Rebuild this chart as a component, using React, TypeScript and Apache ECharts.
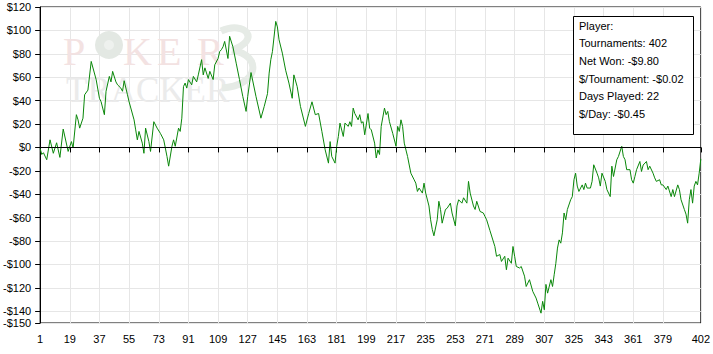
import React, { useEffect, useRef } from "react";
import * as echarts from "echarts";

const tournaments = [
  1, 2, 3, 5, 7, 9, 11, 13, 15, 18, 20, 21, 23, 24, 25, 27, 28, 30, 32, 35, 37, 38, 40, 41, 43, 44, 45, 47, 48, 50,
  51, 52, 54, 55, 58, 59, 60, 61, 63, 64, 65, 67, 68, 70, 72, 74, 76, 78, 79, 81, 82, 83, 85, 86, 87, 88, 89, 90, 91, 93,
  94, 96, 97, 99, 100, 101, 103, 104, 106, 107, 109, 110, 111, 112, 113, 115, 116, 118, 120, 122, 124, 126, 127, 129, 132, 135, 137, 139, 140, 141,
  142, 144, 145, 146, 148, 150, 152, 154, 155, 157, 159, 162, 164, 166, 168, 170, 172, 174, 176, 177, 178, 180, 181, 182, 183, 185, 186, 188, 189, 190,
  191, 192, 194, 195, 196, 197, 198, 200, 201, 202, 204, 205, 206, 207, 208, 210, 211, 212, 213, 215, 217, 218, 219, 220, 221, 222, 224, 226, 228, 229,
  230, 231, 233, 234, 235, 237, 238, 239, 240, 242, 243, 244, 245, 247, 248, 250, 251, 253, 254, 255, 257, 258, 260, 261, 262, 264, 265, 266, 268, 270,
  271, 272, 274, 277, 278, 280, 281, 283, 284, 285, 287, 288, 289, 290, 292, 293, 295, 296, 298, 300, 302, 303, 305, 306, 307, 308, 309, 311, 312, 313,
  314, 315, 316, 317, 318, 319, 320, 321, 323, 324, 325, 326, 327, 328, 330, 331, 332, 333, 335, 336, 337, 339, 340, 341, 342, 344, 345, 347, 348, 349,
  351, 352, 354, 355, 356, 357, 359, 360, 361, 362, 363, 365, 366, 367, 369, 370, 371, 373, 374, 375, 377, 378, 379, 381, 382, 384, 385, 386, 388, 389,
  390, 392, 393, 394, 395, 396, 397, 398, 399, 400, 401, 402,
];

const netWon = [
  -1, -6, -4.5, -10.5, 6.5, -5, 4, -8.5, 15.7, -3.4, 5, -0.5, 28, 23.6, 16.5, 25, 45, 49, 73.5, 58, 42, 39, 28, 48, 60.7, 56, 65, 56, 53.5, 50.7,
  48, 57, 45, 39, 23.6, 15, 6.5, 13.7, 3.7, -5, 16.5, 5, -3.4, 22, 16.5, 12, 6.5, -7.7, -16, 1, 6.5, 1, 16.5, 13.7, 25, 52, 55, 50.7, 58, 53.5,
  60.7, 56, 62, 75, 62, 68, 59, 65, 58, 70.6, 76, 82, 83.5, 86, 90.6, 76, 95, 86, 72, 58, 43.6, 30.8, 43.6, 64, 43.6, 25, 35, 46, 63.5, 75,
  82, 107.7, 103, 92, 80.6, 66, 55, 42, 62, 52, 35, 18, 29, 39, 28, 29, 13.7, -2, -13.4, 5, -7.7, -13.4, 1, 9.4, 20.8, 9.4, 20.8, 18, 22, 18,
  33.6, 29, 23.6, 28, 20.8, 22, 10.8, 29, 16.5, 15, 3.7, -9, -2, -6, 18, 33.6, 28, 30.8, 22, 12, 1, 18, 13.7, 23.6, 18, 3.7, -7.7, -22, -27.6, -30.5,
  -37.6, -34.7, -39, -30.5, -39, -50, -61.8, -70, -75.5, -61.8, -46, -53, -64.7, -53, -52, -47.6, -56, -67, -50, -44.7, -47.6, -43, -47.6, -29, -39, -50, -53, -46, -54.7, -56,
  -59, -61.8, -71, -84.6, -93, -91.5, -97.4, -93, -104.5, -94.6, -99, -84.6, -93, -101.7, -103, -101.7, -110, -118.8, -113, -123, -128.7, -133, -141.6, -131.5, -138.7, -117, -124.5, -113, -118.8, -108.8,
  -99, -86, -79, -81.8, -73, -56, -61.8, -53, -44.7, -42, -27.6, -22, -33, -37.6, -32, -36, -30.5, -34.7, -34.7, -29, -14.8, -22, -26, -33, -22, -29, -36, -42, -16, -24.8,
  -10.5, -7.7, 1, -7.7, -10.5, -19, -19, -27.6, -30.5, -24.8, -19, -12, -20.5, -15, -12, -19, -16, -22, -26, -29, -27.6, -32, -32, -36, -33, -42, -36, -42, -32, -36,
  -44.7, -53, -57, -64.7, -44.7, -36, -47.6, -33, -29, -32, -22, -9.8,
];

const xTicks = [1, 19, 37, 55, 73, 91, 109, 127, 145, 163, 181, 199, 217, 235, 253, 271, 289, 307, 325, 343, 361, 379, 402];
const yTicks = [-150, -140, -120, -100, -80, -60, -40, -20, 0, 20, 40, 60, 80, 100, 120];

const statsLines = [
  "Player:",
  "Tournaments: 402",
  "Net Won: -$9.80",
  "$/Tournament: -$0.02",
  "Days Played: 22",
  "$/Day: -$0.45",
];

const FONT = "'Liberation Sans', Arial, sans-serif";
const SERIF = "'Liberation Serif', serif";

export default function App() {
  const ref = useRef<HTMLDivElement>(null);

  useEffect(() => {
    if (!ref.current) return;
    const chart = echarts.init(ref.current, null, { renderer: "svg" });
    const data = tournaments.map((t, i) => [t, netWon[i]]);

    const statsTexts = statsLines.map((s, i) => ({
      type: "text",
      left: 579,
      top: 20 + i * 17.7,
      z: 10,
      style: { text: s, fill: "#000", font: `11px ${FONT}` },
    }));

    const pink = "#f3e2e2";
    const wm = (text: string, left: number) => ({
      type: "text",
      left,
      top: 31.5,
      z: 1,
      silent: true,
      style: { text, fill: pink, font: `40px ${SERIF}`, lineHeight: 30 },
    });

    chart.setOption({
      animation: false,
      backgroundColor: "#fff",
      grid: {
        left: 36,
        right: 12,
        top: 7,
        bottom: 31,
        show: true,
        borderColor: "#000",
        borderWidth: 1,
        backgroundColor: "transparent",
      },
      xAxis: {
        type: "value",
        min: 1,
        max: 402,
        axisLine: { show: true, lineStyle: { color: "#000", width: 1 } },
        axisTick: { show: true, customValues: xTicks, length: 5, lineStyle: { color: "#000" } },
        axisLabel: {
          customValues: xTicks,
          color: "#000",
          fontFamily: FONT,
          fontSize: 11,
          margin: 10,
        },
        splitLine: { show: true, lineStyle: { color: "#e6e6e6", width: 1 } },
      },
      yAxis: {
        type: "value",
        min: -150,
        max: 120,
        axisLine: { show: true, lineStyle: { color: "#000", width: 1 } },
        axisTick: { show: true, customValues: yTicks, length: 5, lineStyle: { color: "#000" } },
        axisLabel: {
          customValues: yTicks,
          color: "#000",
          fontFamily: FONT,
          fontSize: 11,
          margin: 9,
          formatter: (v: number) => (v < 0 ? "-$" + Math.abs(v) : "$" + v),
        },
        splitLine: { show: true, lineStyle: { color: "#e6e6e6", width: 1 } },
      },
      graphic: [
        wm("P", 63),
        {
          type: "circle",
          shape: { cx: 109, cy: 45, r: 14 },
          z: 1,
          silent: true,
          style: { fill: "#e3e8e3" },
        },
        {
          type: "circle",
          shape: { cx: 109, cy: 45, r: 5 },
          z: 1,
          silent: true,
          style: { fill: "#eef1ee" },
        },
        wm("K", 123),
        wm("E", 157),
        wm("R", 197),
        {
          type: "text",
          left: 66,
          top: 73,
          z: 1,
          silent: true,
          style: { text: "TRACKER", fill: "#ebebeb", font: `35px ${SERIF}`, lineHeight: 24 },
        },
        {
          type: "bezierCurve",
          z: 1,
          silent: true,
          shape: { x1: 221, y1: 31, cpx1: 245, cpy1: 20, cpx2: 262, cpy2: 40, x2: 232, y2: 50 },
          style: { stroke: "#e6ebe6", lineWidth: 7, fill: "none" },
        },
        {
          type: "bezierCurve",
          z: 1,
          silent: true,
          shape: { x1: 232, y1: 50, cpx1: 264, cpy1: 56, cpx2: 258, cpy2: 86, x2: 222, y2: 88 },
          style: { stroke: "#e6ebe6", lineWidth: 7, fill: "none" },
        },
        {
          type: "rect",
          shape: { x: 573.5, y: 16.5, width: 120, height: 118 },
          z: 9,
          style: { fill: "#fff", stroke: "#000", lineWidth: 1 },
        },
        ...statsTexts,
      ],
      series: [
        {
          type: "line",
          data,
          showSymbol: false,
          symbol: "none",
          z: 3,
          lineStyle: { color: "#0a870a", width: 1 },
          markLine: {
            silent: true,
            symbol: ["none", "none"],
            label: { show: false },
            lineStyle: { color: "#000", type: "solid", width: 1 },
            data: [{ yAxis: 0 }],
          },
        },
      ],
    });

    return () => chart.dispose();
  }, []);

  return (
    <div
      ref={ref}
      style={{ position: "absolute", left: 0, top: 0, width: 713, height: 354 }}
    />
  );
}
